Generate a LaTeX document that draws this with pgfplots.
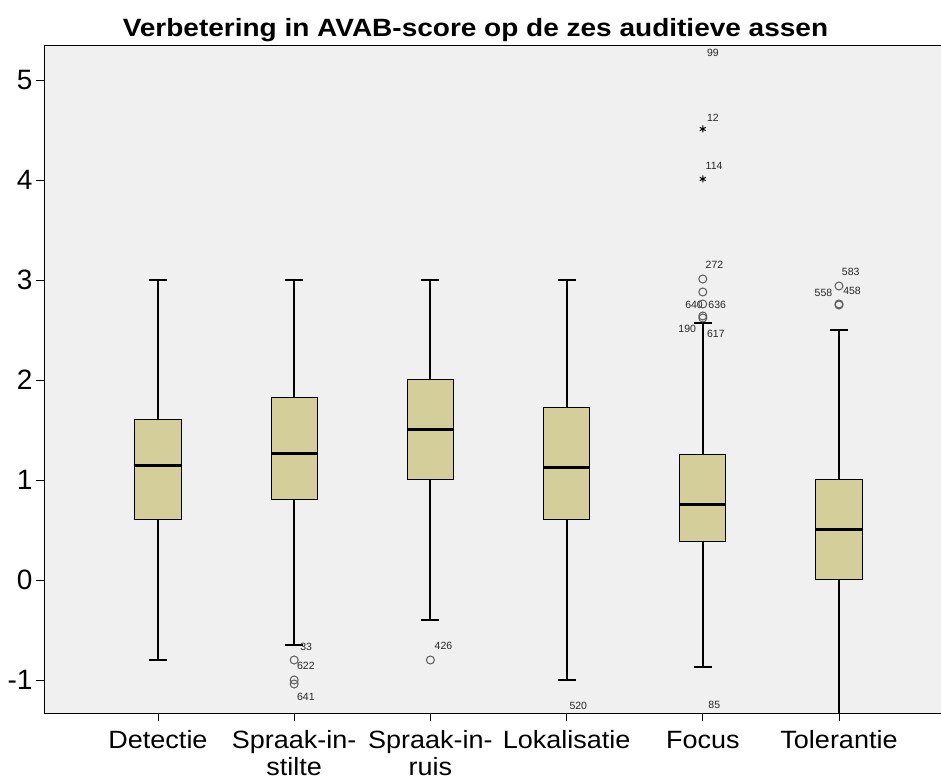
\documentclass[border=0pt]{standalone}
\usepackage{fontspec}
\setmainfont{Liberation Sans}
\newfontfamily\widefont[FakeStretch=1.08]{Liberation Sans}
\newfontfamily\titlefont[FakeStretch=1.12]{Liberation Sans}
\usepackage{pgfplots}
\pgfplotsset{compat=1.18}
\usepgfplotslibrary{statistics}
\definecolor{boxfill}{RGB}{212,206,154}
\definecolor{bgc}{RGB}{240,240,240}
\definecolor{outl}{RGB}{90,90,90}
\newcommand{\lbl}[3]{\node[anchor=west,inner sep=0pt,font=\fontsize{10.5bp}{11bp}\selectfont,text=black!85] at (axis cs:#1,#2) {#3};}
\begin{document}
\begin{tikzpicture}
\begin{axis}[
  scale only axis, width=897bp, height=668bp,
  xmin=-0.837, xmax=5.749, ymin=-1.33, ymax=5.35,
  axis background/.style={fill=bgc},
  axis line style={black, line width=0.8bp},
  xtick={0,...,5},
  xticklabels={\strut Detectie,{\strut Spraak-in-\\stilte},{\strut Spraak-in-\\ruis},\strut Lokalisatie,\strut Focus,\strut Tolerantie},
  xticklabel style={align=center, font=\widefont\fontsize{25bp}{25bp}\selectfont, anchor=north, yshift=-6bp},
  ytick={-1,...,5},
  yticklabel style={font=\fontsize{28bp}{28bp}\selectfont},
  tick align=outside, tick pos=left, major tick length=8bp,
  tick style={black, line width=0.8bp},
  /pgf/number format/assume math mode=true,
  title={Verbetering in AVAB-score op de zes auditieve assen},
  title style={font=\titlefont\bfseries\fontsize{25bp}{26bp}\selectfont, at={(axis description cs:0.481,1)}, anchor=base, yshift=3bp},
  boxplot/draw direction=y,
  boxplot/box extend=0.338,
  boxplot/whisker extend=0.132,
  boxplot/every box/.style={draw=black, fill=boxfill, line width=1bp},
  boxplot/every whisker/.style={black, line width=2bp},
  boxplot/every median/.style={black, line width=3bp},
]
\addplot[boxplot prepared={draw position=0, lower whisker=-0.8, lower quartile=0.6, median=1.14, upper quartile=1.6, upper whisker=3.0}] coordinates {};
\addplot[boxplot prepared={draw position=1, lower whisker=-0.65, lower quartile=0.8, median=1.26, upper quartile=1.82, upper whisker=3.0}] coordinates {};
\addplot[boxplot prepared={draw position=2, lower whisker=-0.4, lower quartile=1.0, median=1.5, upper quartile=2.0, upper whisker=3.0}] coordinates {};
\addplot[boxplot prepared={draw position=3, lower whisker=-1.0, lower quartile=0.6, median=1.12, upper quartile=1.72, upper whisker=3.0}] coordinates {};
\addplot[boxplot prepared={draw position=4, lower whisker=-0.87, lower quartile=0.38, median=0.75, upper quartile=1.25, upper whisker=2.57}] coordinates {};
\addplot[boxplot prepared={draw position=5, lower whisker=-1.6, lower quartile=0.0, median=0.5, upper quartile=1.0, upper whisker=2.5}] coordinates {};
% outliers (circles)
\addplot[only marks, mark=o, mark size=4bp, mark options={draw=outl, line width=1bp}] coordinates {
 (1,-0.8) (1,-1.0) (1,-1.04)
 (2,-0.8)
 (4,3.01) (4,2.88) (4,2.76) (4,2.64) (4,2.62)
 (5,2.94) (5,2.76) (5,2.75)
};
% extreme values (stars)
\addplot[only marks, mark=asterisk, mark size=3.5bp, mark options={draw=black, line width=1bp}] coordinates {
 (4,4.51) (4,4.01)
};
\lbl{1.043}{-0.67}{33}
\lbl{1.02}{-0.86}{622}
\lbl{1.02}{-1.17}{641}
\lbl{2.03}{-0.66}{426}
\lbl{3.02}{-1.26}{520}
\lbl{4.04}{-1.25}{85}
\lbl{4.03}{5.27}{99}
\lbl{4.03}{4.62}{12}
\lbl{4.02}{4.14}{114}
\lbl{4.02}{3.15}{272}
\lbl{3.87}{2.75}{640}
\lbl{4.04}{2.75}{636}
\lbl{3.82}{2.51}{190}
\lbl{4.03}{2.46}{617}
\lbl{5.02}{3.08}{583}
\lbl{4.82}{2.87}{558}
\lbl{5.03}{2.89}{458}
\end{axis}
\pgfresetboundingbox
\path ([shift={(-44bp,-66bp)}]current axis.south west) rectangle ([shift={(0bp,45bp)}]current axis.north east);
\end{tikzpicture}
\end{document}
